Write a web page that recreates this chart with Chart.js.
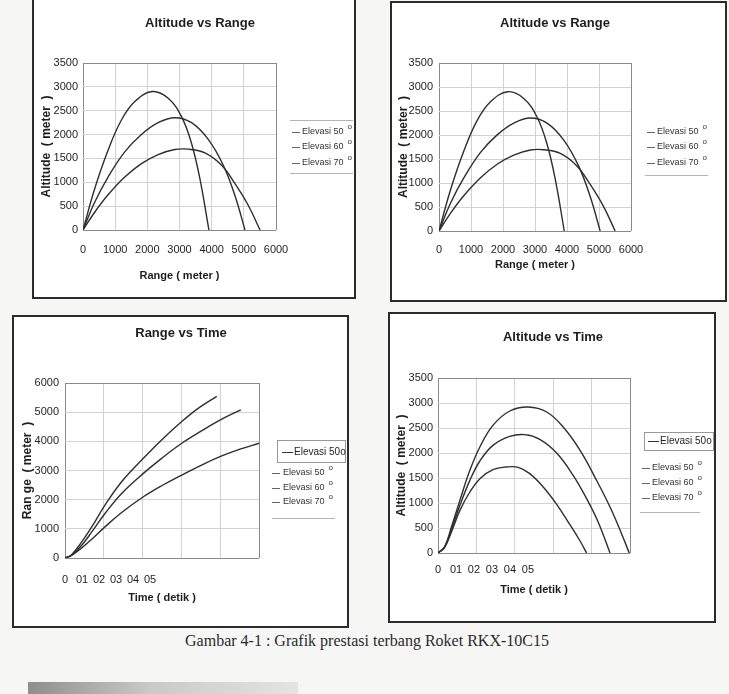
<!DOCTYPE html>
<html>
<head>
<meta charset="utf-8">
<script src="https://cdn.jsdelivr.net/npm/chart.js@4.4.0/dist/chart.umd.min.js"></script>
<style>
  html, body { margin: 0; padding: 0; width: 729px; height: 694px; overflow: hidden; background: #f6f6f5; }
  .panel { position: absolute; box-sizing: border-box; border: 2px solid #2b2b2b; background: #fff; }
  canvas { position: absolute; }
  #caption { position: absolute; left: 0; top: 632px; width: 734px; text-align: center;
             font: 16px 'Liberation Serif', 'DejaVu Serif', serif; color: #2a2a2a; }
  #scanbar { position: absolute; left: 28px; top: 682px; width: 270px; height: 12px;
             background: linear-gradient(90deg, #8e8e8e, #c9c9c9 45%, #e4e4e4); }
</style>
</head>
<body>
<div class="panel" style="left:32px;top:-3px;width:324px;height:302px"></div>
<canvas id="c1" width="324" height="299" style="left:32px;top:0px"></canvas>
<div class="panel" style="left:390px;top:1px;width:337px;height:301px"></div>
<canvas id="c2" width="337" height="301" style="left:390px;top:1px"></canvas>
<div class="panel" style="left:12px;top:315px;width:337px;height:313px"></div>
<canvas id="c3" width="337" height="313" style="left:12px;top:315px"></canvas>
<div class="panel" style="left:388px;top:312px;width:328px;height:311px"></div>
<canvas id="c4" width="328" height="311" style="left:388px;top:312px"></canvas>
<div id="caption">Gambar 4-1 : Grafik prestasi terbang Roket RKX-10C15</div>
<div id="scanbar"></div>
<script>
// label seri dan teks legenda
const seriesLabels = ['Elevasi 50', 'Elevasi 60', 'Elevasi 70'];
const degreeMark = 'o';
const extraLegendLabel = 'Elevasi 50o';
const timeTickLabels = ['0', '01', '02', '03', '04', '05'];

// Altitude vs Range (meter)
const rangeE50 = [0, 363, 779, 1298, 1817, 2336, 2856, 3271, 3790, 4309, 4725, 5140, 5504];
const altE50   = [0, 372, 738, 1110, 1391, 1581, 1687, 1694, 1616, 1356, 970, 513, 0];
const rangeE60 = [0, 363, 779, 1298, 1817, 2336, 2856, 3375, 3894, 4361, 4725, 5036];
const altE60   = [0, 583, 1110, 1637, 2003, 2249, 2354, 2249, 1898, 1356, 717, 0];
const rangeE70 = [0, 363, 779, 1194, 1610, 2150, 2648, 3063, 3375, 3634, 3915];
const altE70   = [0, 864, 1672, 2305, 2692, 2902, 2762, 2375, 1813, 1075, 0];

// Range vs Time
const timeRangeE50 = [0, 0.17, 0.43, 0.69, 1.03, 1.46, 2.02, 2.49, 3.01, 3.44, 3.91];
const rangeTimeE50 = [0, 115, 550, 1067, 1812, 2615, 3417, 4048, 4679, 5138, 5539];
const timeRangeE60 = [0, 0.17, 0.43, 0.69, 1.03, 1.46, 2.02, 2.49, 3.01, 3.52, 4.04, 4.53];
const rangeTimeE60 = [0, 92, 436, 894, 1525, 2213, 2901, 3417, 3933, 4358, 4759, 5080];
const timeRangeE70 = [0, 0.17, 0.43, 0.69, 1.03, 1.46, 2.02, 2.49, 3.01, 3.52, 4.04, 4.53, 5.0];
const rangeTimeE70 = [0, 92, 344, 642, 1067, 1560, 2099, 2477, 2844, 3188, 3498, 3739, 3933];

// Altitude vs Time
const timeAltE50 = [0, 0.17, 0.35, 0.57, 0.83, 1.09, 1.43, 1.78, 2.09, 2.39, 2.74, 3.09, 3.43, 3.70, 3.87];
const altTimeE50 = [0, 107, 420, 853, 1220, 1487, 1667, 1720, 1713, 1587, 1320, 973, 573, 240, 0];
const timeAltE60 = [0, 0.17, 0.35, 0.57, 0.83, 1.09, 1.43, 1.87, 2.26, 2.65, 3.09, 3.52, 3.87, 4.17, 4.48];
const altTimeE60 = [0, 120, 467, 953, 1453, 1840, 2153, 2333, 2367, 2273, 2000, 1553, 1087, 620, 0];
const timeAltE70 = [0, 0.17, 0.35, 0.57, 0.83, 1.09, 1.43, 1.87, 2.35, 2.83, 3.26, 3.70, 4.13, 4.48, 4.78, 4.98];
const altTimeE70 = [0, 120, 520, 1053, 1653, 2120, 2553, 2840, 2920, 2820, 2520, 2053, 1453, 920, 387, 0];

const sans = "'Liberation Sans', Arial, sans-serif";
const ink = '#1e1e1e';

function zip(xs, ys) {
  return xs.map((x, i) => ({ x: x, y: ys[i] }));
}

// judul + legenda digambar langsung di canvas
const panelText = {
  id: 'panelText',
  afterDraw(chart, args, o) {
    const ctx = chart.ctx;
    ctx.save();
    ctx.fillStyle = ink;
    ctx.textBaseline = 'middle';
    ctx.font = 'bold 13px ' + sans;
    ctx.textAlign = 'center';
    ctx.fillText(o.title, o.titleX, o.titleY);

    ctx.textAlign = 'left';
    ctx.lineWidth = 1;
    chart.data.datasets.forEach((ds, i) => {
      const y = o.ys[i];
      ctx.strokeStyle = '#666';
      ctx.beginPath();
      ctx.moveTo(o.lineX[0], y + 0.5);
      ctx.lineTo(o.lineX[1], y + 0.5);
      ctx.stroke();
      ctx.font = '9px ' + sans;
      ctx.fillStyle = '#333';
      ctx.fillText(ds.label, o.textX, y);
      const w = ctx.measureText(ds.label).width;
      ctx.font = '8px ' + sans;
      ctx.fillText(degreeMark, o.textX + w + 4, y - 5);
    });
    ctx.strokeStyle = '#b5b5b5';
    (o.rules || []).forEach(r => {
      ctx.beginPath();
      ctx.moveTo(r[0], r[2] + 0.5);
      ctx.lineTo(r[1], r[2] + 0.5);
      ctx.stroke();
    });
    if (o.box) {
      const b = o.box;
      ctx.strokeStyle = '#999';
      ctx.strokeRect(b.x + 0.5, b.y + 0.5, b.w, b.h);
      ctx.strokeStyle = '#333';
      ctx.beginPath();
      ctx.moveTo(b.lineX[0], b.textY + 0.5);
      ctx.lineTo(b.lineX[1], b.textY + 0.5);
      ctx.stroke();
      ctx.font = '10px ' + sans;
      ctx.fillStyle = ink;
      ctx.fillText(extraLegendLabel, b.textX, b.textY);
    }
    ctx.restore();
  }
};

function gridColor(min, max) {
  return c => (c.tick && (c.tick.value === min || c.tick.value === max)) ? '#8a8a8a' : '#d2d2d2';
}

function valueAxis(max, step, pad, width, title) {
  return {
    type: 'linear', min: 0, max: max,
    ticks: { stepSize: step, padding: pad, color: ink, font: { family: sans, size: 11 },
             callback: v => String(v) },
    grid: { color: gridColor(0, max), drawTicks: false },
    border: { display: false },
    title: { display: true, text: title, color: ink, padding: 0,
             font: { family: sans, size: 12, weight: 'bold' } },
    afterFit: s => { s.width = width; s.paddingTop = 0; s.paddingBottom = 0; }
  };
}

function makeChart(id, sets, layoutPad, scales, text) {
  new Chart(document.getElementById(id), {
    type: 'scatter',
    data: {
      datasets: sets.map((s, i) => ({
        label: seriesLabels[i],
        data: s,
        showLine: true,
        borderColor: '#2e2e2e',
        borderWidth: 1.4,
        pointRadius: 0,
        tension: 0.4,
        xAxisID: 'x',
        yAxisID: 'y'
      }))
    },
    options: {
      responsive: false,
      animation: false,
      devicePixelRatio: 1,
      layout: { padding: layoutPad },
      plugins: { legend: { display: false }, tooltip: { enabled: false }, panelText: text },
      scales: scales
    },
    plugins: [panelText]
  });
}

// sumbu jarak untuk grafik Altitude vs Range
function rangeScales(pad, height) {
  return {
    type: 'linear', min: 0, max: 6000,
    ticks: { stepSize: 1000, padding: pad, color: ink, maxRotation: 0, autoSkip: false,
             font: { family: sans, size: 11 }, callback: v => String(v) },
    grid: { color: gridColor(0, 6000), drawTicks: false },
    border: { display: false },
    title: { display: true, text: 'Range ( meter )', color: ink, padding: 0,
             font: { family: sans, size: 11, weight: 'bold' } },
    afterFit: s => { s.height = height; s.paddingLeft = 0; s.paddingRight = 0; }
  };
}

// sumbu waktu: grid 0..5, label "0 01 02 ..." di sumbu kedua
function timeScales(labelMax, pad, height) {
  return {
    x: {
      type: 'linear', min: 0, max: 5,
      ticks: { display: false, stepSize: 1 },
      grid: { color: gridColor(0, 5), drawTicks: false },
      border: { display: false },
      afterFit: s => { s.height = 0; s.paddingLeft = 0; s.paddingRight = 0; }
    },
    x2: {
      type: 'linear', position: 'bottom', min: 0, max: labelMax,
      grid: { display: false },
      border: { display: false },
      afterBuildTicks: s => { s.ticks = timeTickLabels.map((_, i) => ({ value: i })); },
      ticks: { padding: pad, color: ink, maxRotation: 0, autoSkip: false,
               font: { family: sans, size: 11 }, callback: (v, i) => timeTickLabels[i] },
      title: { display: true, text: 'Time ( detik )', color: ink, padding: 0,
               font: { family: sans, size: 11, weight: 'bold' } },
      afterFit: s => { s.height = height; s.paddingLeft = 0; s.paddingRight = 0; }
    }
  };
}

const altRangeSets = [zip(rangeE50, altE50), zip(rangeE60, altE60), zip(rangeE70, altE70)];

makeChart('c1', altRangeSets,
  { left: 7, right: 80, top: 63, bottom: 16 },
  { x: rangeScales(13, 53), y: valueAxis(3500, 500, 5, 44, 'Altitude  ( meter  )') },
  { title: 'Altitude vs Range', titleX: 168, titleY: 23,
    ys: [132, 147, 163], lineX: [260, 268], textX: 270,
    rules: [[258, 321, 120], [258, 321, 173]] });

makeChart('c2', altRangeSets,
  { left: 6, right: 96, top: 62, bottom: 30 },
  { x: rangeScales(12, 41), y: valueAxis(3500, 500, 6, 43, 'Altitude  ( meter  )') },
  { title: 'Altitude vs Range', titleX: 165, titleY: 22,
    ys: [131, 146, 162], lineX: [257, 265], textX: 267,
    rules: [[255, 318, 174]] });

const s3 = timeScales(11.4, 7, 47);
s3.y = valueAxis(6000, 1000, 6, 45, 'Ran ge  ( meter  )');
makeChart('c3',
  [zip(timeRangeE50, rangeTimeE50), zip(timeRangeE60, rangeTimeE60), zip(timeRangeE70, rangeTimeE70)],
  { left: 8, right: 90, top: 68, bottom: 23 }, s3,
  { title: 'Range vs Time', titleX: 169, titleY: 18,
    ys: [158, 173, 187], lineX: [260, 268], textX: 271,
    rules: [[260, 323, 203]],
    box: { x: 265, y: 125, w: 68, h: 22, lineX: [270, 281], textX: 282, textY: 137 } });

const s4 = timeScales(10.67, 2, 44);
s4.y = valueAxis(3500, 500, 5, 44, 'Altitude  ( meter  )');
makeChart('c4',
  [zip(timeAltE50, altTimeE50), zip(timeAltE60, altTimeE60), zip(timeAltE70, altTimeE70)],
  { left: 6, right: 86, top: 66, bottom: 26 }, s4,
  { title: 'Altitude vs Time', titleX: 165, titleY: 25,
    ys: [156, 171, 186], lineX: [254, 262], textX: 264,
    rules: [[252, 312, 200]],
    box: { x: 256, y: 120, w: 69, h: 18, lineX: [260, 271], textX: 272, textY: 129 } });
</script>
</body>
</html>
